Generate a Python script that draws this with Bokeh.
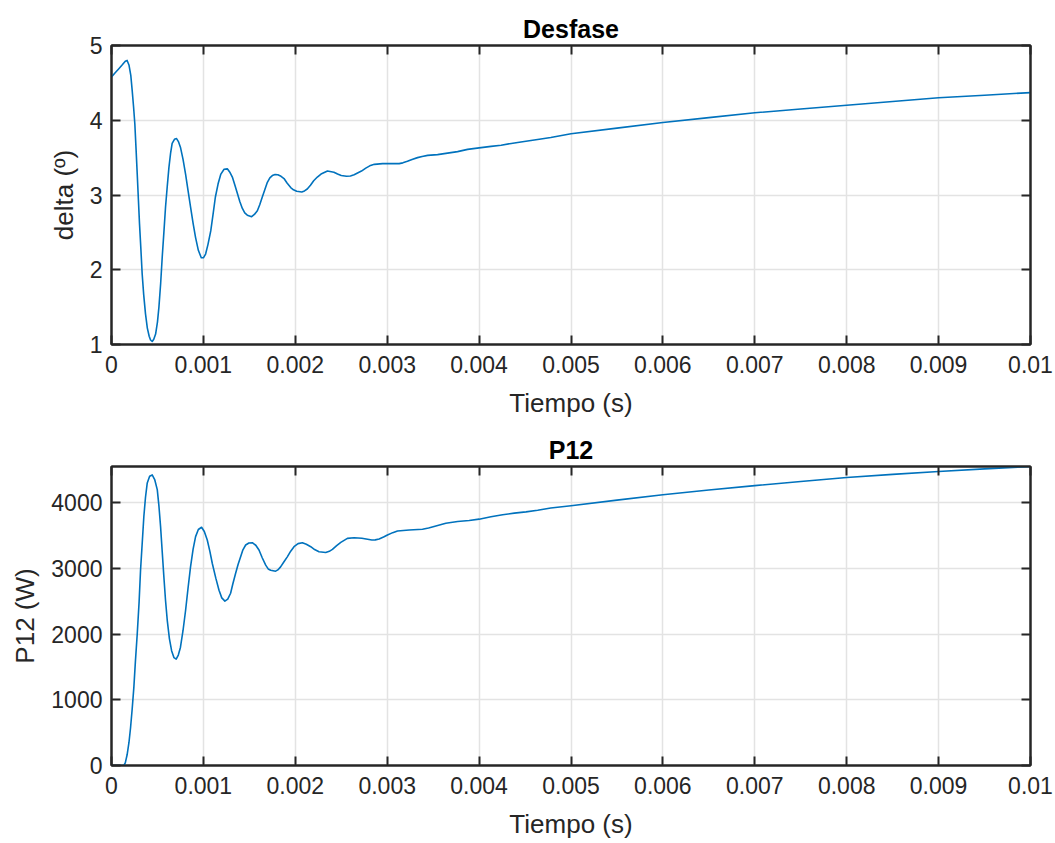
from bokeh.plotting import figure
from bokeh.layouts import column
from bokeh.models import LinearAxis, FixedTicker, NumeralTickFormatter, Range1d
from bokeh.embed import file_html
from bokeh.resources import INLINE

# ---- data ----
t_delta = [0, 0.00004, 0.00008, 0.00012, 0.00015, 0.00017, 0.00019, 0.00021, 0.000225,
           0.00024, 0.000254, 0.000267, 0.00028, 0.000293, 0.000305, 0.00032, 0.000334,
           0.00035, 0.00037, 0.00039, 0.00041, 0.000425, 0.000443, 0.00046, 0.00048,
           0.0005, 0.000516, 0.000535, 0.000552, 0.00057, 0.000588, 0.000607, 0.000625,
           0.000643, 0.00066, 0.000685, 0.000708, 0.00073, 0.00075, 0.000778, 0.000806,
           0.000833, 0.00086, 0.000888, 0.000915, 0.000945, 0.000977, 0.001, 0.001024,
           0.00105, 0.00108, 0.001105, 0.00113, 0.00116, 0.00119, 0.001225, 0.00126,
           0.00129, 0.001315, 0.001343, 0.00137, 0.001397, 0.001424, 0.00145, 0.001478,
           0.001525, 0.001555, 0.001587, 0.001613, 0.00164, 0.001668, 0.001696, 0.001723,
           0.00175, 0.00178, 0.00181, 0.001845, 0.001877, 0.00191, 0.00195, 0.00198,
           0.002015, 0.00207, 0.0021, 0.00213, 0.002165, 0.0022, 0.00224, 0.00228, 0.00235,
           0.00242, 0.00246, 0.0025, 0.002557, 0.0026, 0.00264, 0.00272, 0.002767, 0.00281,
           0.00286, 0.00295, 0.00304, 0.00313, 0.00317, 0.00322, 0.00327, 0.00333, 0.00338,
           0.00344, 0.003548, 0.003657, 0.003766, 0.003875, 0.004, 0.00413, 0.00424,
           0.00435, 0.004455, 0.004564, 0.004673, 0.00478, 0.005, 0.0055, 0.006, 0.0065,
           0.007, 0.0075, 0.008, 0.0085, 0.009, 0.0095, 0.01]
delta = [4.58, 4.635, 4.69, 4.745, 4.79, 4.80, 4.74, 4.60, 4.40,
         4.18, 3.95, 3.62, 3.28, 2.93, 2.61, 2.27, 1.94,
         1.67, 1.41, 1.22, 1.11, 1.06, 1.04, 1.07, 1.14,
         1.30, 1.50, 1.82, 2.17, 2.50, 2.84, 3.12, 3.37,
         3.56, 3.69, 3.745, 3.755, 3.71, 3.64, 3.48, 3.28,
         3.06, 2.84, 2.62, 2.43, 2.26, 2.16, 2.16, 2.21,
         2.34, 2.52, 2.74, 2.97, 3.15, 3.28, 3.345, 3.35,
         3.30, 3.24, 3.13, 3.02, 2.91, 2.82, 2.76, 2.73,
         2.71, 2.74, 2.79, 2.87, 2.97, 3.07, 3.17, 3.23,
         3.26, 3.275, 3.27, 3.25, 3.22, 3.16, 3.10, 3.07,
         3.05, 3.04, 3.055, 3.08, 3.13, 3.19, 3.24, 3.28, 3.32,
         3.305, 3.28, 3.26, 3.25, 3.255, 3.27, 3.32, 3.36, 3.39,
         3.41, 3.42, 3.42, 3.42, 3.43, 3.45, 3.475, 3.50, 3.515,
         3.53, 3.54, 3.56, 3.58, 3.61, 3.63, 3.65, 3.665,
         3.69, 3.71, 3.73, 3.75, 3.77, 3.82, 3.895, 3.97, 4.035,
         4.10, 4.15, 4.20, 4.25, 4.30, 4.335, 4.37]

t_p12 = [0, 0.000134, 0.00015, 0.00017, 0.00019, 0.000207, 0.000225, 0.000243, 0.00026,
         0.00028, 0.0003, 0.000316, 0.000335, 0.000352, 0.00037, 0.000389, 0.000415,
         0.000443, 0.00047, 0.000498, 0.000516, 0.000534, 0.000552, 0.00057, 0.000588,
         0.000607, 0.00063, 0.000654, 0.00068, 0.000704, 0.000727, 0.00075, 0.000778,
         0.000806, 0.000833, 0.00086, 0.000888, 0.000915, 0.000945, 0.00098, 0.00101,
         0.001042, 0.00107, 0.001097, 0.001135, 0.00117, 0.0012, 0.001234, 0.001265,
         0.001296, 0.00132, 0.00135, 0.001378, 0.001405, 0.00143, 0.00146, 0.001495,
         0.001532, 0.00157, 0.001605, 0.00164, 0.001678, 0.001705, 0.001732, 0.001786,
         0.00181, 0.00184, 0.001875, 0.001913, 0.00195, 0.001986, 0.00203, 0.002077,
         0.00212, 0.002168, 0.00221, 0.002258, 0.002331, 0.00237, 0.002404, 0.00245,
         0.002495, 0.002567, 0.00264, 0.002724, 0.002833, 0.00287, 0.002912, 0.00296,
         0.003003, 0.00306, 0.003112, 0.003239, 0.003384, 0.00345, 0.00351, 0.003638,
         0.003766, 0.003892, 0.004, 0.004129, 0.004256, 0.004383, 0.00451, 0.004637,
         0.00478, 0.005, 0.0055, 0.006, 0.0065, 0.007, 0.0075, 0.008, 0.0085, 0.009,
         0.0095, 0.01]
p12 = [0, 0, 40, 163, 350, 571, 860, 1184, 1580,
       2001, 2480, 2971, 3400, 3787, 4080, 4298, 4400,
       4420, 4350, 4196, 3950, 3634, 3250, 2868, 2510,
       2205, 1930, 1746, 1640, 1618, 1680, 1796, 2050,
       2358, 2700, 3021, 3290, 3481, 3590, 3624, 3560,
       3430, 3260, 3073, 2850, 2665, 2550, 2501, 2530,
       2620, 2760, 2920, 3060, 3174, 3280, 3354, 3385,
       3389, 3350, 3277, 3160, 3047, 2990, 2971, 2956,
       2975, 3021, 3095, 3174, 3260, 3328, 3375, 3389,
       3365, 3328, 3285, 3251, 3241, 3258, 3287, 3345,
       3394, 3455, 3465, 3456, 3430, 3432, 3445, 3475,
       3507, 3542, 3568, 3583, 3594, 3612, 3634, 3685,
       3711, 3726, 3747, 3783, 3815, 3839, 3858, 3882,
       3916, 3951, 4037, 4119, 4190, 4257, 4320, 4380, 4428, 4472,
       4512, 4548]

x_ticks = [0, 0.001, 0.002, 0.003, 0.004, 0.005, 0.006, 0.007, 0.008, 0.009, 0.01]
delta_ticks = [1, 2, 3, 4, 5]
p12_ticks = [0, 1000, 2000, 3000, 4000]

# ---- styling ----
FONT = "Liberation Sans"
DARK = "#262626"
LINE = "#0072BD"
GRID = "#e3e3e3"
TICK_PX = "23px"
LABEL_PX = "26px"
TITLE_PX = "25px"


def style_axis(ax, ticks, show_labels=True, fmt=None):
    ax.ticker = FixedTicker(ticks=ticks)
    if fmt is not None:
        ax.formatter = fmt
    ax.axis_line_color = DARK
    ax.axis_line_width = 2
    ax.major_tick_line_color = DARK
    ax.major_tick_line_width = 2
    ax.major_tick_in = 9
    ax.major_tick_out = 0
    ax.minor_tick_line_color = None
    ax.major_label_text_font = FONT
    ax.major_label_text_color = DARK
    ax.axis_label_text_font = FONT
    ax.axis_label_text_color = DARK
    ax.axis_label_text_font_style = "normal"
    ax.axis_label_text_font_size = LABEL_PX
    if show_labels:
        ax.major_label_text_font_size = TICK_PX
        ax.major_label_standoff = 9
    else:
        ax.major_label_text_font_size = "1px"
        ax.major_label_text_color = None
        ax.major_label_standoff = 0


def make_fig(title, x, y, yticks, ylabel, height, yr):
    p = figure(width=1055, height=height, output_backend="svg", toolbar_location=None,
               x_range=Range1d(0, 0.01), y_range=yr, title=title,
               min_border_left=111, min_border_right=25, min_border_top=45,
               min_border_bottom=height - 45 - 299, x_axis_label="Tiempo (s)",
               y_axis_label=ylabel)
    p.title.align = "center"
    p.title.text_font = FONT
    p.title.text_font_size = TITLE_PX
    p.title.text_font_style = "bold"
    p.title.text_color = "#000000"
    p.title.standoff = 6
    p.outline_line_color = DARK
    p.outline_line_width = 2
    p.background_fill_color = "white"
    p.border_fill_color = "white"
    style_axis(p.xaxis[0], x_ticks, fmt=NumeralTickFormatter(format="0.[000]"))
    p.xaxis[0].major_label_standoff = 11
    p.xaxis[0].axis_label_standoff = 12
    style_axis(p.yaxis[0], yticks)
    p.yaxis[0].axis_label_standoff = 8
    top = LinearAxis()
    style_axis(top, x_ticks, show_labels=False)
    p.add_layout(top, "above")
    right = LinearAxis()
    style_axis(right, yticks, show_labels=False)
    p.add_layout(right, "right")
    p.xgrid.ticker = FixedTicker(ticks=x_ticks)
    p.ygrid.ticker = FixedTicker(ticks=yticks)
    for g in (p.xgrid[0], p.ygrid[0]):
        g.grid_line_color = GRID
        g.grid_line_width = 1.5
    p.line(x, y, line_color=LINE, line_width=1.6, line_join="round")
    return p


p1 = make_fig("Desfase", t_delta, delta, delta_ticks, "delta (º)", 421, Range1d(1, 5))
p2 = make_fig("P12", t_p12, p12, p12_ticks, "P12 (W)", 422, Range1d(0, p12[-1]))

layout = column(p1, p2, spacing=0)
open("out.html", "w").write(file_html(layout, INLINE))
